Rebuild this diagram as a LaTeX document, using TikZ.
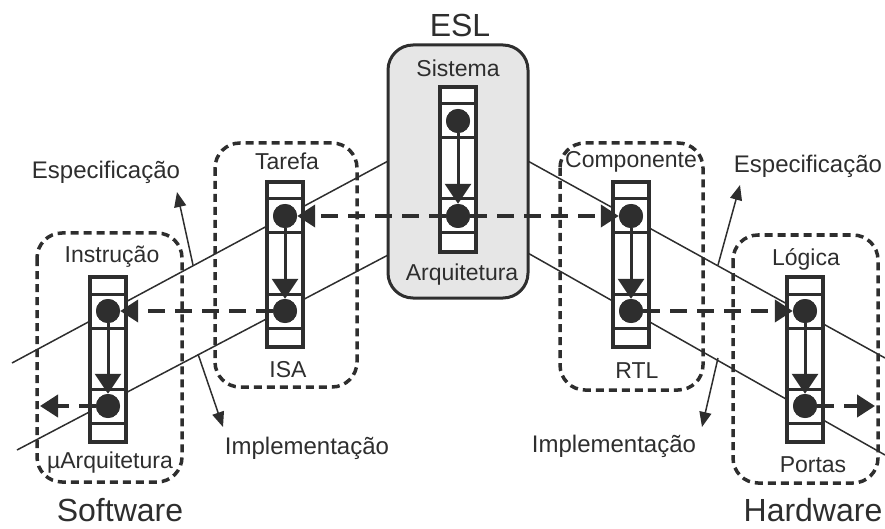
\documentclass[tikz,border=0pt]{standalone}
\usepackage{fontspec}
\setmainfont{Liberation Sans}
\usetikzlibrary{arrows.meta,calc}
\definecolor{ink}{HTML}{2E2E2E}
\definecolor{eslgray}{HTML}{E6E6E6}
\tikzset{
  colbox/.style={draw=ink, line width=3.5pt, fill=white},
  colline/.style={draw=ink, line width=3pt},
  dot/.style={circle, fill=ink, inner sep=0pt, minimum size=24pt},
  vflow/.style={draw=ink, line width=3pt, -{Triangle[length=20pt,width=26pt]}},
  dconn/.style={draw=ink, line width=4pt, dash pattern=on 17pt off 10pt, -{Triangle[length=18pt,width=22pt]}},
  dbox/.style={draw=ink, line width=3.5pt, dash pattern=on 8pt off 5pt, rounded corners=25pt},
  eslbox/.style={draw=ink, line width=3pt, fill=eslgray, rounded corners=25pt},
  thinline/.style={draw=ink, line width=1.5pt},
  tharrow/.style={draw=ink, line width=1.5pt, -{Triangle[length=15pt,width=12pt]}},
  lab/.style={text=ink, font=\fontsize{23}{26}\selectfont, anchor=base, inner sep=0pt},
  spec/.style={text=ink, font=\fontsize{24}{27}\selectfont, anchor=base, inner sep=0pt},
  big/.style={text=ink, font=\fontsize{32}{36}\selectfont, anchor=base, inner sep=0pt}
}
\newcommand\mkcol[3]{%
  \draw[colbox] ({#2-18},{#3}) rectangle ({#2+18},{#3+165});
  \foreach \dy in {17,51,112,146} \draw[colline] ({#2-18},{#3+\dy}) -- ({#2+18},{#3+\dy});
  \node[dot] (#1a) at (#2,{#3+34}) {};
  \node[dot] (#1b) at (#2,{#3+129}) {};
  \draw[vflow] (#1a) -- (#1b);
}
\begin{document}
\begin{tikzpicture}[x=1pt,y=-1pt]
\useasboundingbox (0,0) rectangle (885,529);
% thin diagonal lines
\coordinate (la1) at (12,363);  \coordinate (la2) at (390,160);
\coordinate (lb1) at (17,450);  \coordinate (lb2) at (390,254);
\coordinate (lc1) at (526,160); \coordinate (lc2) at (885,358);
\coordinate (ld1) at (526,252); \coordinate (ld2) at (885,455);
\draw[thinline] (la1) -- (la2);
\draw[thinline] (lb1) -- (lb2);
\draw[thinline] (lc1) -- (lc2);
\draw[thinline] (ld1) -- (ld2);
% thin arrows
\coordinate (specLs) at (193,265); \coordinate (specLt) at (177,192);
\coordinate (implLs) at (198,354); \coordinate (implLt) at (223,427);
\coordinate (specRs) at (718,265); \coordinate (specRt) at (740,185);
\coordinate (implRs) at (718,358); \coordinate (implRt) at (702,427);
\draw[tharrow] (specLs) -- (specLt);
\draw[tharrow] (implLs) -- (implLt);
\draw[tharrow] (specRs) -- (specRt);
\draw[tharrow] (implRs) -- (implRt);
% boxes
\draw[eslbox] (388,45) rectangle (528,298);
\draw[dbox] (215,143) rectangle (357,387);
\draw[dbox] (37,233) rectangle (182,482);
\draw[dbox] (560,143) rectangle (703,390);
\draw[dbox] (733,235) rectangle (878,483);
% columns
\mkcol{esl}{458}{87}
\mkcol{tar}{285}{182}
\mkcol{ins}{108}{277}
\mkcol{com}{631}{182}
\mkcol{log}{805}{277}
% dashed connectors
\coordinate (outL) at (40,406);
\coordinate (outR) at (875,406);
\draw[dconn] (eslb) -- (tara);
\draw[dconn] (eslb) -- (coma);
\draw[dconn] (tarb) -- (insa);
\draw[dconn] (comb) -- (loga);
\draw[dconn] (insb) -- (outL);
\draw[dconn] (logb) -- (outR);
% redraw dots on top
\foreach \n in {esla,eslb,tara,tarb,insa,insb,coma,comb,loga,logb} \fill[ink] (\n) circle (12pt);
% labels
\node[big] (esl) at (460,37) {ESL};
\node[big] (sw) at (120,521) {Software};
\node[big] (hw) at (813,521) {Hardware};
\node[lab] (sistema) at (458,77) {Sistema};
\node[lab] (arq) at (462,280) {Arquitetura};
\node[lab] (tarefa) at (287,170) {Tarefa};
\node[lab] (isa) at (288,377) {ISA};
\node[lab] (instr) at (112,262) {Instrução};
\node[lab] (uarq) at (110,468) {µArquitetura};
\node[lab] (compo) at (631,168) {Componente};
\node[lab] (rtl) at (637,378) {RTL};
\node[lab] (logica) at (806,265) {Lógica};
\node[lab] (portas) at (813,472) {Portas};
\node[spec] (specL) at (106,179) {Especificação};
\node[spec] (specR) at (808,173) {Especificação};
\node[spec] (implL) at (307,454) {Implementação};
\node[spec] (implR) at (614,452) {Implementação};
\end{tikzpicture}
\end{document}
